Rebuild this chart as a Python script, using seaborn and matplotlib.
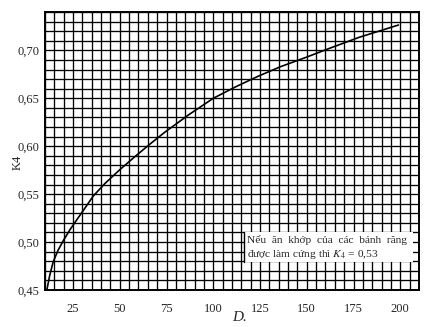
import matplotlib
matplotlib.use("Agg")
import matplotlib.pyplot as plt
import numpy as np
import pandas as pd
import seaborn as sns

# Coefficient K4 as a function of D
d_values = [11, 12.5, 14.4, 17, 19.8, 23.4, 27.8, 30.5, 35.8, 42, 50, 58, 66, 74,
            87, 100, 112, 124, 136, 150, 162, 178, 199]
k4_values = [0.450, 0.465, 0.4795, 0.4915, 0.5015, 0.513, 0.5255, 0.533, 0.548,
             0.561, 0.5755, 0.589, 0.602, 0.6145, 0.633, 0.650, 0.662, 0.673,
             0.683, 0.693, 0.702, 0.7136, 0.7264]

x_ticks = [25, 50, 75, 100, 125, 150, 175, 200]
x_tick_labels = ["25", "50", "75", "100", "125", "150", "175", "200"]
y_ticks = [0.45, 0.50, 0.55, 0.60, 0.65, 0.70]
y_tick_labels = ["0,45", "0,50", "0,55", "0,60", "0,65", "0,70"]

note_lines = ["Nếu  ăn  khớp  của  các  bánh  răng",
              "được làm cứng thì $K_4$ = 0,53"]

df = pd.DataFrame({"D": d_values, "K4": k4_values})

sns.set_style("white")
plt.rcParams["font.family"] = ["Liberation Serif", "DejaVu Serif"]
plt.rcParams["mathtext.fontset"] = "stix"

fig = plt.figure(figsize=(4.38, 3.27), dpi=100)
ax = fig.add_axes([0.1027, 0.1131, 0.8539, 0.8502])

sns.lineplot(data=df, x="D", y="K4", ax=ax, color="black", linewidth=1.2,
             zorder=5)

x_min, x_max = 10, 210
y_min, y_max = 0.45, 0.74
ax.set_xlim(x_min, x_max)
ax.set_ylim(y_min, y_max)

# Fine grid: every 5 units of D and every 0.01 of K4
ax.set_xticks(x_ticks)
ax.set_xticklabels(x_tick_labels)
ax.set_yticks(y_ticks)
ax.set_yticklabels(y_tick_labels)
ax.set_xticks(np.arange(x_min, x_max + 0.1, 5), minor=True)
ax.set_yticks(np.arange(y_min, y_max + 0.001, 0.01), minor=True)
ax.grid(True, which="both", color="black", linewidth=0.95)
ax.set_axisbelow(True)
ax.tick_params(which="both", length=0)
ax.tick_params(axis="x", pad=9, labelsize=9)
ax.tick_params(axis="y", pad=4, labelsize=9)

for spine in ax.spines.values():
    spine.set_visible(True)
    spine.set_color("black")
    spine.set_linewidth(1.4)

ax.set_xlabel("D.", fontsize=11, style="italic")
ax.xaxis.set_label_coords(0.52, -0.075)
ax.set_ylabel("K4", fontsize=9)
ax.yaxis.set_label_coords(-0.058, 0.46)

# White note panel in the lower right
ax.fill_between([116.5, 207], 0.4792, 0.5105, color="white", zorder=3,
                linewidth=0)
ax.plot([116.5, 116.5], [0.4792, 0.5105], color="black", linewidth=1.0,
        zorder=4)
ax.text(117.8, 0.5025, note_lines[0], fontsize=8.2, va="center", ha="left",
        zorder=6)
ax.text(117.8, 0.4875, note_lines[1], fontsize=8.2, va="center", ha="left",
        zorder=6)

fig.savefig("out.png", dpi=100)
